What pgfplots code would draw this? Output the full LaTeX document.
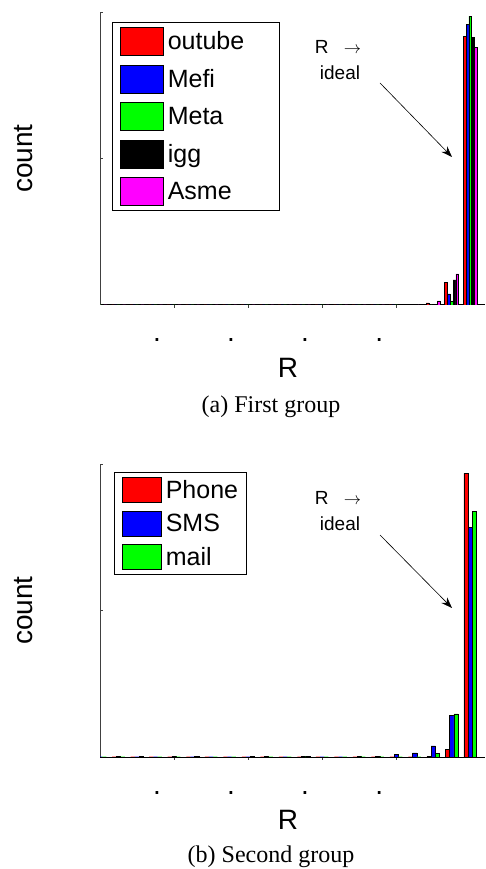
\documentclass[border=0pt]{standalone}
\usepackage{pgfplots}
\usepackage{pgfplotstable}
\pgfplotsset{compat=1.18}
\usepackage{fontspec}
\setmainfont{Liberation Sans}
\newfontfamily\capfont{Liberation Serif}
\usetikzlibrary{arrows.meta}

\definecolor{mred}{RGB}{255,0,0}
\definecolor{mblue}{RGB}{0,0,255}
\definecolor{mgreen}{RGB}{0,255,0}
\definecolor{mmag}{RGB}{255,0,255}

\pgfplotstableread{
x r b g k m
0.00 0 0 0 0 0
0.05 0 0 0 0 0
0.10 0 0 0 0 0
0.15 0 0 0 0 0
0.20 0 0 0 0 0
0.25 0 0 0 0 0
0.30 0 0 0 0 0
0.35 0 0 0 0 0
0.40 0 0 0 0 0
0.45 0 0 0 0 0
0.50 0 0 0 0 0
0.55 0 0 0 0 0
0.60 0 0 0 0 0
0.65 0 0 0 0 0
0.70 0 0 0 0 0
0.75 0 0 0 0 0
0.80 0 0 0 0 0.001
0.85 0.002 0.002 0.002 0.002 0.003
0.90 0.007 0.003 0.003 0.003 0.014
0.95 0.077 0.038 0.012 0.086 0.106
1.00 0.916 0.959 0.986 0.914 0.880
}\firsttable

\pgfplotstableread{
x r b g
0.00 0.001 0.001 0.001
0.05 0.001 0.002 0.001
0.10 0.001 0.001 0.002
0.15 0.001 0.001 0.001
0.20 0.001 0.002 0.001
0.25 0.001 0.001 0.002
0.30 0.001 0.001 0.001
0.35 0.001 0.001 0.001
0.40 0.001 0.001 0.002
0.45 0.001 0.002 0.001
0.50 0.001 0.001 0.001
0.55 0.001 0.002 0.002
0.60 0.001 0.001 0.001
0.65 0.001 0.001 0.001
0.70 0.001 0.002 0.001
0.75 0.001 0.003 0.001
0.80 0.001 0.008 0.001
0.85 0.001 0.014 0.001
0.90 0.002 0.038 0.013
0.95 0.027 0.143 0.147
1.00 0.968 0.784 0.839
}\secondtable

\pgfplotsset{
  myaxis/.style={
    scale only axis, width=385pt, height=293pt,
    anchor=south west,
    xmin=0, xmax=1.04, ymin=0, ymax=1,
    enlargelimits=false,
    axis x line=bottom, axis y line=left,
    axis line style={-},
    x axis line style={line width=1pt, black},
    y axis line style={line width=0.5pt, black!75},
    tick align=inside, major tick length=3pt,
    tick style={black!75, line width=0.5pt},
    xtick={0.2,0.4,0.6,0.8}, xticklabels={.,.,.,.},
    xticklabel style={anchor=base, yshift=-34pt, xshift=-17pt, font=\fontsize{28}{34}\selectfont},
    ytick={0.5,1}, yticklabels={},
    xlabel={R}, ylabel={count},
    label style={font=\fontsize{28}{34}\selectfont},
    xlabel style={at={(axis description cs:0.488,-0.249)}, anchor=base},
    ylabel style={at={(axis description cs:-0.1766,0.5)}, anchor=base},
    legend cell align=left,
    every axis plot/.append style={draw=black, line width=0.4pt},
  }
}

\begin{document}
\begin{tikzpicture}[x=1pt,y=1pt]
\path[use as bounding box] (0,0) rectangle (485,869);

% ---- first group ----
\begin{axis}[myaxis, at={(100pt,564pt)},
  ybar=0pt, bar width=2.8pt,
  legend image code/.code={\draw[#1, draw=black, line width=0.4pt] (0pt,-14pt) rectangle (43pt,14pt);},
  legend style={at={(axis description cs:0,1)}, anchor=north west, xshift=12pt, yshift=-10pt,
    font=\fontsize{25}{29}\selectfont, draw=black, line width=0.8pt,
    row sep=9pt, /tikz/column sep=4pt, inner xsep=8pt, inner ysep=5pt,
    nodes={inner sep=0pt}},
]
\addplot[fill=mred] table[x=x,y=r]{\firsttable};
\addplot[fill=mblue] table[x=x,y=b]{\firsttable};
\addplot[fill=mgreen] table[x=x,y=g]{\firsttable};
\addplot[fill=black] table[x=x,y=k]{\firsttable};
\addplot[fill=mmag] table[x=x,y=m]{\firsttable};
\legend{\makebox[104pt][l]{outube},Mefi,Meta,igg,Asme}
\end{axis}

% ---- second group ----
\begin{axis}[myaxis, at={(100pt,112pt)},
  ybar=0pt, bar width=4.2pt,
  legend image code/.code={\draw[#1, draw=black, line width=0.4pt] (0pt,-12.5pt) rectangle (39pt,12.5pt);},
  legend style={at={(axis description cs:0,1)}, anchor=north west, xshift=14pt, yshift=-8pt,
    font=\fontsize{25}{29}\selectfont, draw=black, line width=0.8pt,
    row sep=8pt, /tikz/column sep=4pt, inner xsep=8pt, inner ysep=5pt,
    nodes={inner sep=0pt}},
]
\addplot[fill=mred] table[x=x,y=r]{\secondtable};
\addplot[fill=mblue] table[x=x,y=b]{\secondtable};
\addplot[fill=mgreen] table[x=x,y=g]{\secondtable};
\legend{Phone,SMS,mail}
\end{axis}

% annotations
\node[anchor=base, font=\fontsize{19}{23}\selectfont] at (338,815) {R\hspace{0.8em}$\rightarrow$};
\node[anchor=base, font=\fontsize{19}{23}\selectfont] at (340,789) {ideal};
\draw[line width=0.6pt, -{Stealth[length=11pt,width=8pt]}] (380,786) -- (452,712);

\node[anchor=base, font=\fontsize{19}{23}\selectfont] at (338,364) {R\hspace{0.8em}$\rightarrow$};
\node[anchor=base, font=\fontsize{19}{23}\selectfont] at (340,338) {ideal};
\draw[line width=0.6pt, -{Stealth[length=11pt,width=8pt]}] (380,334) -- (452,261);

% captions
\node[anchor=base, font=\capfont\fontsize{24}{28}\selectfont] at (271,456) {(a) First group};
\node[anchor=base, font=\capfont\fontsize{24}{28}\selectfont] at (271,6) {(b) Second group};
\end{tikzpicture}
\end{document}
